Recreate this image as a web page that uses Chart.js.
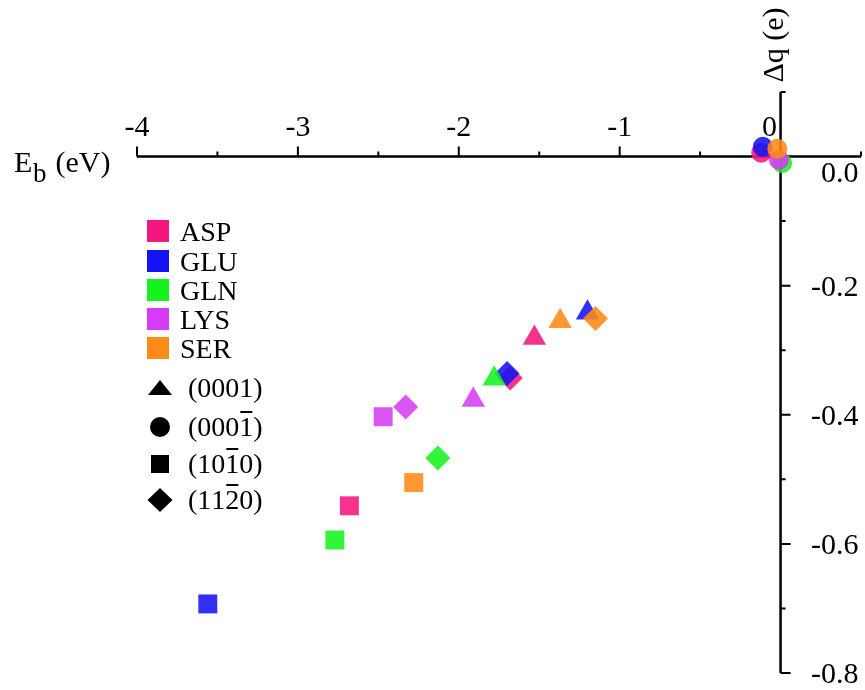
<!DOCTYPE html>
<html>
<head>
<meta charset="utf-8">
<script src="https://cdn.jsdelivr.net/npm/chart.js@4.4.1/dist/chart.umd.min.js"></script>
<style>
  html, body { margin: 0; padding: 0; background: #fff; }
  canvas { display: block; }
</style>
</head>
<body>
<canvas id="chart" width="865" height="690"></canvas>
<script>
// residues (colour) and ZnO facets (marker), in legend order
const residues = ['ASP', 'GLU', 'GLN', 'LYS', 'SER'];
const residueColors = ['#f5167f', '#1414f5', '#16f21c', '#d63cf5', '#ff8a17'];
const facets = ['(0001)', '(0001\u0305)', '(101\u03050)', '(112\u03050)'];
const facetShapes = ['triangle', 'circle', 'rect', 'rectRot'];

// binding energy Eb (eV) and charge transfer Δq (e), one value per facet
const aspEb = [-1.53, -0.12, -2.68, -1.68];
const aspDq = [-0.281, 0.006, -0.541, -0.343];
const gluEb = [-1.20, -0.11, -3.56, -1.70];
const gluDq = [-0.242, 0.015, -0.693, -0.336];
const glnEb = [-1.78, 0.01, -2.77, -2.13];
const glnDq = [-0.344, -0.010, -0.594, -0.467];
const lysEb = [-1.91, -0.01, -2.47, -2.33];
const lysDq = [-0.377, -0.005, -0.403, -0.388];
const serEb = [-1.37, -0.02, -2.28, -1.15];
const serDq = [-0.255, 0.012, -0.505, -0.251];

const ebValues = [aspEb, gluEb, glnEb, lysEb, serEb];
const dqValues = [aspDq, gluDq, glnDq, lysDq, serDq];

// axis ticks
const xTicks = [-4, -3, -2, -1, 0];
const xTickLabels = ['-4', '-3', '-2', '-1', '0'];
const xMinorTicks = [-3.5, -2.5, -1.5, -0.5, 0.5];
const yTicks = [0, -0.2, -0.4, -0.6, -0.8];
const yTickLabels = ['0.0', '-0.2', '-0.4', '-0.6', '-0.8'];
const yMinorTicks = [0.1, -0.1, -0.3, -0.5, -0.7];

const SERIF = '"Liberation Serif", "Times New Roman", serif';
const shapeRadius = { triangle: 13.5, circle: 10, rect: 13.4, rectRot: 12.5 };

function withAlpha(hex, a) {
  const n = parseInt(hex.slice(1), 16);
  return `rgba(${(n >> 16) & 255}, ${(n >> 8) & 255}, ${n & 255}, ${a})`;
}

// text with combining overline (U+0305) drawn as a bar over the previous char
function fillBarText(ctx, text, x, y) {
  const chars = [];
  for (const ch of text) {
    if (ch === '\u0305' && chars.length) chars[chars.length - 1].bar = true;
    else chars.push({ ch, bar: false });
  }
  let cx = x;
  chars.forEach(c => {
    const w = ctx.measureText(c.ch).width;
    ctx.fillText(c.ch, cx, y);
    if (c.bar) ctx.fillRect(cx + 1, y - 25, w - 2, 2);
    cx += w;
  });
}

function drawLegendShape(ctx, shape, x, y) {
  ctx.beginPath();
  if (shape === 'triangle') {
    ctx.moveTo(x, y - 8); ctx.lineTo(x + 12, y + 7); ctx.lineTo(x - 12, y + 7);
  } else if (shape === 'circle') {
    ctx.arc(x, y, 10, 0, Math.PI * 2);
  } else if (shape === 'rect') {
    ctx.rect(x - 9, y - 9, 18, 18);
  } else {
    ctx.moveTo(x, y - 12); ctx.lineTo(x + 12.5, y); ctx.lineTo(x, y + 12); ctx.lineTo(x - 12.5, y);
  }
  ctx.closePath();
  ctx.fill();
}

// axes crossing at the origin: Eb along the top, Δq down the right side
const originAxes = {
  id: 'originAxes',
  beforeDatasetsDraw(chart) {
    const { ctx, scales: { x, y } } = chart;
    const x0 = x.getPixelForValue(0);
    const y0 = y.getPixelForValue(0);
    ctx.save();
    ctx.strokeStyle = '#000';
    ctx.fillStyle = '#000';
    ctx.lineWidth = 2.5;
    ctx.beginPath();
    ctx.moveTo(x.getPixelForValue(x.min), y0);
    ctx.lineTo(x.getPixelForValue(x.max), y0);
    ctx.moveTo(x0, y.getPixelForValue(y.max));
    ctx.lineTo(x0, y.getPixelForValue(y.min));
    ctx.stroke();

    ctx.lineWidth = 2;
    ctx.beginPath();
    xTicks.forEach(v => { const p = x.getPixelForValue(v); ctx.moveTo(p, y0); ctx.lineTo(p, y0 - 10); });
    xMinorTicks.forEach(v => { const p = x.getPixelForValue(v); ctx.moveTo(p, y0); ctx.lineTo(p, y0 - 5); });
    yTicks.forEach(v => { const p = y.getPixelForValue(v); ctx.moveTo(x0, p); ctx.lineTo(x0 + 10, p); });
    yMinorTicks.forEach(v => { const p = y.getPixelForValue(v); ctx.moveTo(x0, p); ctx.lineTo(x0 + 5, p); });
    ctx.stroke();

    ctx.font = '30px ' + SERIF;
    ctx.textBaseline = 'alphabetic';
    ctx.textAlign = 'center';
    xTicks.forEach((v, i) => {
      const p = x.getPixelForValue(v) - (v === 0 ? 11 : 0);
      ctx.fillText(xTickLabels[i], p, y0 - 21);
    });
    ctx.textAlign = 'right';
    yTicks.forEach((v, i) => {
      const p = y.getPixelForValue(v) + (v === 0 ? 25 : 10);
      ctx.fillText(yTickLabels[i], x0 + 78, p);
    });

    // axis titles
    ctx.textAlign = 'left';
    ctx.fillText('E', 14, 172);
    ctx.font = '27px ' + SERIF;
    ctx.fillText('b', 33, 182);
    ctx.font = '30px ' + SERIF;
    ctx.fillText(' (eV)', 48, 172);

    ctx.save();
    ctx.translate(x0 + 2, 45);
    ctx.rotate(-Math.PI / 2);
    ctx.textAlign = 'center';
    ctx.fillText('\u0394q (e)', 0, 0);
    ctx.restore();
    ctx.restore();
  },
  afterDraw(chart) {
    const { ctx } = chart;
    ctx.save();
    ctx.font = '28px ' + SERIF;
    ctx.textAlign = 'left';
    ctx.textBaseline = 'alphabetic';
    const rowY = [231, 261, 290, 319, 348];
    residues.forEach((name, i) => {
      ctx.fillStyle = residueColors[i];
      ctx.fillRect(147, rowY[i] - 11, 22, 22);
      ctx.fillStyle = '#000';
      ctx.fillText(name, 180, rowY[i] + 10);
    });
    const shapeY = [388, 427, 464, 500];
    facets.forEach((label, i) => {
      ctx.fillStyle = '#000';
      drawLegendShape(ctx, facetShapes[i], 160, shapeY[i]);
      fillBarText(ctx, label, 188, shapeY[i] + 9);
    });
    ctx.restore();
  }
};

function buildChart() {
  const datasets = residues.map((name, i) => ({
    label: name,
    data: ebValues[i].map((eb, j) => ({ x: eb, y: dqValues[i][j] })),
    pointStyle: facetShapes,
    pointRadius: facetShapes.map(s => shapeRadius[s]),
    pointHoverRadius: facetShapes.map(s => shapeRadius[s]),
    pointBackgroundColor: withAlpha(residueColors[i], 0.88),
    pointBorderWidth: 0,
    pointBorderColor: 'rgba(0,0,0,0)',
    showLine: false,
    clip: false,
    // later residues are painted over earlier ones
    order: residues.length - i
  }));

  new Chart(document.getElementById('chart'), {
    type: 'scatter',
    data: { datasets },
    options: {
      responsive: false,
      animation: false,
      events: [],
      layout: { autoPadding: false, padding: { left: 137, right: 4, top: 92, bottom: 17 } },
      plugins: {
        legend: { display: false },
        tooltip: { enabled: false }
      },
      scales: {
        x: { type: 'linear', min: -4, max: 0.5, display: false },
        y: { type: 'linear', min: -0.8, max: 0.1, display: false }
      }
    },
    plugins: [originAxes]
  });
}

Promise.all([
  document.fonts.load('30px "Liberation Serif"'),
  document.fonts.load('28px "Liberation Serif"')
]).catch(() => {}).then(buildChart);
</script>
</body>
</html>
